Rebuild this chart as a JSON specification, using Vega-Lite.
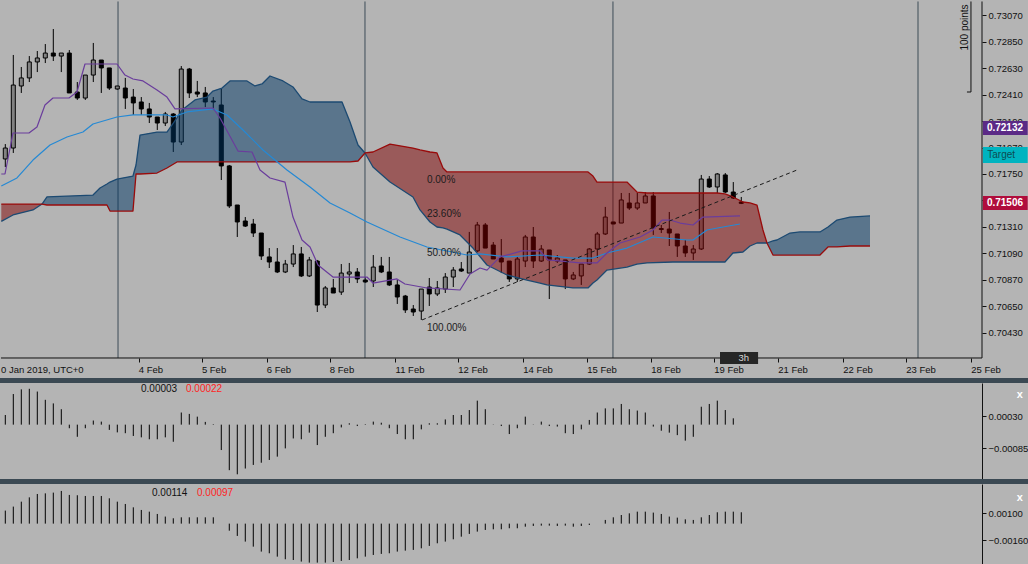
{
"$schema":"https://vega.github.io/schema/vega-lite/v6.json",
"background":"#b4b4b4",
"padding":0,
"spacing":5,
"bounds":"flush",
"config":{"font":"Liberation Sans","view":{"fill":"#b4b4b4","stroke":null}},
"resolve":{"scale":{"x":"independent","y":"independent"}},
"datasets":{
"candles":[
{"t":0,"o":0.71875,"h":0.71999,"l":0.71808,"c":0.71966},{"t":1,"o":0.71966,"h":0.72740,"l":0.71925,"c":0.72490},{"t":2,"o":0.72482,"h":0.72640,"l":0.72424,"c":0.72549},{"t":3,"o":0.72549,"h":0.72731,"l":0.72515,"c":0.72682},{"t":4,"o":0.72682,"h":0.72773,"l":0.72598,"c":0.72715},{"t":5,"o":0.72715,"h":0.72831,"l":0.72673,"c":0.72756},{"t":6,"o":0.72756,"h":0.72956,"l":0.72690,"c":0.72731},{"t":7,"o":0.72731,"h":0.72756,"l":0.72598,"c":0.72756},{"t":8,"o":0.72756,"h":0.72781,"l":0.72424,"c":0.72424},{"t":9,"o":0.72432,"h":0.72515,"l":0.72366,"c":0.72382},
{"t":10,"o":0.72382,"h":0.72573,"l":0.72366,"c":0.72573},{"t":11,"o":0.72573,"h":0.72840,"l":0.72515,"c":0.72698},{"t":12,"o":0.72698,"h":0.72698,"l":0.72424,"c":0.72632},{"t":13,"o":0.72632,"h":0.72632,"l":0.72449,"c":0.72465},{"t":14,"o":0.72457,"h":0.72482,"l":0.72449,"c":0.72482},{"t":15,"o":0.72465,"h":0.72549,"l":0.72291,"c":0.72382},{"t":16,"o":0.72390,"h":0.72457,"l":0.72241,"c":0.72341},{"t":17,"o":0.72349,"h":0.72390,"l":0.72241,"c":0.72291},{"t":18,"o":0.72291,"h":0.72341,"l":0.72174,"c":0.72224},{"t":19,"o":0.72224,"h":0.72224,"l":0.72116,"c":0.72174},
{"t":20,"o":0.72174,"h":0.72266,"l":0.72149,"c":0.72249},{"t":21,"o":0.72249,"h":0.72257,"l":0.71933,"c":0.72016},{"t":22,"o":0.72016,"h":0.72648,"l":0.71991,"c":0.72623},{"t":23,"o":0.72623,"h":0.72632,"l":0.72382,"c":0.72424},{"t":24,"o":0.72432,"h":0.72524,"l":0.72390,"c":0.72415},{"t":25,"o":0.72424,"h":0.72474,"l":0.72307,"c":0.72349},{"t":26,"o":0.72357,"h":0.72390,"l":0.72282,"c":0.72349},{"t":27,"o":0.72324,"h":0.72465,"l":0.71700,"c":0.71817},{"t":28,"o":0.71817,"h":0.71825,"l":0.71467,"c":0.71484},{"t":29,"o":0.71492,"h":0.71492,"l":0.71226,"c":0.71351},
{"t":30,"o":0.71359,"h":0.71392,"l":0.71309,"c":0.71317},{"t":31,"o":0.71334,"h":0.71376,"l":0.71226,"c":0.71259},{"t":32,"o":0.71259,"h":0.71259,"l":0.71035,"c":0.71068},{"t":33,"o":0.71060,"h":0.71134,"l":0.70968,"c":0.71018},{"t":34,"o":0.71018,"h":0.71134,"l":0.70926,"c":0.70935},{"t":35,"o":0.70935,"h":0.71035,"l":0.70926,"c":0.71001},{"t":36,"o":0.71001,"h":0.71159,"l":0.70976,"c":0.71085},{"t":37,"o":0.71085,"h":0.71143,"l":0.70893,"c":0.70902},{"t":38,"o":0.70902,"h":0.71060,"l":0.70893,"c":0.71035},{"t":39,"o":0.71026,"h":0.71035,"l":0.70602,"c":0.70660},
{"t":40,"o":0.70660,"h":0.70818,"l":0.70635,"c":0.70802},{"t":41,"o":0.70802,"h":0.70877,"l":0.70760,"c":0.70760},{"t":42,"o":0.70768,"h":0.71001,"l":0.70744,"c":0.70926},{"t":43,"o":0.70918,"h":0.71010,"l":0.70843,"c":0.70935},{"t":44,"o":0.70935,"h":0.70968,"l":0.70843,"c":0.70877},{"t":45,"o":0.70868,"h":0.70893,"l":0.70843,"c":0.70852},{"t":46,"o":0.70860,"h":0.71076,"l":0.70810,"c":0.70976},{"t":47,"o":0.70985,"h":0.71060,"l":0.70926,"c":0.70935},{"t":48,"o":0.70935,"h":0.71060,"l":0.70818,"c":0.70827},{"t":49,"o":0.70827,"h":0.70868,"l":0.70669,"c":0.70727},
{"t":50,"o":0.70735,"h":0.70744,"l":0.70594,"c":0.70619},{"t":51,"o":0.70627,"h":0.70660,"l":0.70569,"c":0.70602},{"t":52,"o":0.70610,"h":0.70793,"l":0.70536,"c":0.70793},{"t":53,"o":0.70810,"h":0.70885,"l":0.70652,"c":0.70752},{"t":54,"o":0.70752,"h":0.70860,"l":0.70735,"c":0.70802},{"t":55,"o":0.70793,"h":0.70926,"l":0.70760,"c":0.70893},{"t":56,"o":0.70893,"h":0.70976,"l":0.70810,"c":0.70951},{"t":57,"o":0.70960,"h":0.71018,"l":0.70935,"c":0.70943},{"t":58,"o":0.70926,"h":0.71268,"l":0.70926,"c":0.71101},{"t":59,"o":0.71110,"h":0.71351,"l":0.71101,"c":0.71326},
{"t":60,"o":0.71326,"h":0.71342,"l":0.71134,"c":0.71134},{"t":61,"o":0.71159,"h":0.71184,"l":0.71043,"c":0.71043},{"t":62,"o":0.71051,"h":0.71209,"l":0.70926,"c":0.71018},{"t":63,"o":0.71026,"h":0.71026,"l":0.70852,"c":0.70877},{"t":64,"o":0.70877,"h":0.71060,"l":0.70852,"c":0.71043},{"t":65,"o":0.71026,"h":0.71243,"l":0.70976,"c":0.71226},{"t":66,"o":0.71226,"h":0.71309,"l":0.70968,"c":0.71026},{"t":67,"o":0.71026,"h":0.71159,"l":0.71018,"c":0.71126},{"t":68,"o":0.71118,"h":0.71118,"l":0.70710,"c":0.71035},{"t":69,"o":0.71026,"h":0.71076,"l":0.71010,"c":0.71051},
{"t":70,"o":0.71035,"h":0.71035,"l":0.70793,"c":0.70877},{"t":71,"o":0.70877,"h":0.70935,"l":0.70868,"c":0.70910},{"t":72,"o":0.70902,"h":0.71001,"l":0.70827,"c":0.71001},{"t":73,"o":0.71001,"h":0.71134,"l":0.70993,"c":0.71126},{"t":74,"o":0.71126,"h":0.71268,"l":0.71051,"c":0.71251},{"t":75,"o":0.71251,"h":0.71476,"l":0.71243,"c":0.71392},{"t":76,"o":0.71351,"h":0.71351,"l":0.71334,"c":0.71334},{"t":77,"o":0.71342,"h":0.71592,"l":0.71342,"c":0.71534},{"t":78,"o":0.71509,"h":0.71592,"l":0.71451,"c":0.71467},{"t":79,"o":0.71467,"h":0.71592,"l":0.71451,"c":0.71509},
{"t":80,"o":0.71509,"h":0.71600,"l":0.71509,"c":0.71567},{"t":81,"o":0.71567,"h":0.71600,"l":0.71243,"c":0.71301},{"t":82,"o":0.71296,"h":0.71326,"l":0.71259,"c":0.71288},{"t":83,"o":0.71292,"h":0.71434,"l":0.71151,"c":0.71259},{"t":84,"o":0.71251,"h":0.71251,"l":0.71060,"c":0.71151},{"t":85,"o":0.71151,"h":0.71201,"l":0.71060,"c":0.71093},{"t":86,"o":0.71093,"h":0.71159,"l":0.71035,"c":0.71126},{"t":87,"o":0.71126,"h":0.71742,"l":0.71118,"c":0.71708},{"t":88,"o":0.71708,"h":0.71733,"l":0.71634,"c":0.71642},{"t":89,"o":0.71642,"h":0.71758,"l":0.71592,"c":0.71750},
{"t":90,"o":0.71742,"h":0.71758,"l":0.71592,"c":0.71600},{"t":91,"o":0.71600,"h":0.71683,"l":0.71542,"c":0.71550},{"t":92,"o":0.71517,"h":0.71559,"l":0.71500,"c":0.71506}],
"cloud":[
{"seg":"r1","trend":"bear","t":-0.5,"a":0.71356,"b":0.71500},{"seg":"r1","trend":"bear","t":0.96,"a":0.71409,"b":0.71500},{"seg":"r1","trend":"bear","t":3.46,"a":0.71451,"b":0.71500},{"seg":"r1","trend":"bear","t":4.59,"a":0.71500,"b":0.71500},
{"seg":"b1","trend":"bull","t":4.59,"a":0.71500,"b":0.71500},{"seg":"b1","trend":"bull","t":5.21,"a":0.71559,"b":0.71492},{"seg":"b1","trend":"bull","t":10.96,"a":0.71575,"b":0.71492},{"seg":"b1","trend":"bull","t":11.84,"a":0.71634,"b":0.71492},{"seg":"b1","trend":"bull","t":12.71,"a":0.71667,"b":0.71492},{"seg":"b1","trend":"bull","t":13.09,"a":0.71683,"b":0.71442},{"seg":"b1","trend":"bull","t":13.96,"a":0.71708,"b":0.71442},{"seg":"b1","trend":"bull","t":15.96,"a":0.71733,"b":0.71442},{"seg":"b1","trend":"bull","t":16.34,"a":0.71825,"b":0.71750},{"seg":"b1","trend":"bull","t":16.84,"a":0.72074,"b":0.71750},{"seg":"b1","trend":"bull","t":18.96,"a":0.72099,"b":0.71758},{"seg":"b1","trend":"bull","t":20.21,"a":0.72099,"b":0.71800},{"seg":"b1","trend":"bull","t":21.46,"a":0.72216,"b":0.71850},{"seg":"b1","trend":"bull","t":22.09,"a":0.72282,"b":0.71850},{"seg":"b1","trend":"bull","t":23.71,"a":0.72366,"b":0.71850},{"seg":"b1","trend":"bull","t":25.21,"a":0.72390,"b":0.71850},{"seg":"b1","trend":"bull","t":25.96,"a":0.72440,"b":0.71850},{"seg":"b1","trend":"bull","t":27.09,"a":0.72465,"b":0.71850},{"seg":"b1","trend":"bull","t":28.09,"a":0.72524,"b":0.71850},{"seg":"b1","trend":"bull","t":30.21,"a":0.72524,"b":0.71850},{"seg":"b1","trend":"bull","t":31.21,"a":0.72482,"b":0.71850},{"seg":"b1","trend":"bull","t":32.09,"a":0.72499,"b":0.71850},{"seg":"b1","trend":"bull","t":33.09,"a":0.72565,"b":0.71850},{"seg":"b1","trend":"bull","t":34.71,"a":0.72524,"b":0.71850},{"seg":"b1","trend":"bull","t":35.96,"a":0.72474,"b":0.71850},{"seg":"b1","trend":"bull","t":37.09,"a":0.72374,"b":0.71850},{"seg":"b1","trend":"bull","t":38.09,"a":0.72349,"b":0.71850},{"seg":"b1","trend":"bull","t":42.09,"a":0.72349,"b":0.71850},{"seg":"b1","trend":"bull","t":43.09,"a":0.72183,"b":0.71850},{"seg":"b1","trend":"bull","t":44.09,"a":0.71991,"b":0.71858},{"seg":"b1","trend":"bull","t":44.96,"a":0.71925,"b":0.71925},
{"seg":"r2","trend":"bear","t":44.96,"a":0.71925,"b":0.71925},{"seg":"r2","trend":"bear","t":45.96,"a":0.71808,"b":0.71933},{"seg":"r2","trend":"bear","t":48.09,"a":0.71683,"b":0.71999},{"seg":"r2","trend":"bear","t":50.96,"a":0.71559,"b":0.71966},{"seg":"r2","trend":"bear","t":51.84,"a":0.71451,"b":0.71950},{"seg":"r2","trend":"bear","t":53.09,"a":0.71351,"b":0.71933},{"seg":"r2","trend":"bear","t":53.96,"a":0.71309,"b":0.71925},{"seg":"r2","trend":"bear","t":54.71,"a":0.71301,"b":0.71800},{"seg":"r2","trend":"bear","t":55.21,"a":0.71292,"b":0.71767},{"seg":"r2","trend":"bear","t":56.84,"a":0.71243,"b":0.71767},{"seg":"r2","trend":"bear","t":58.46,"a":0.71134,"b":0.71767},{"seg":"r2","trend":"bear","t":60.21,"a":0.70993,"b":0.71767},{"seg":"r2","trend":"bear","t":62.71,"a":0.70910,"b":0.71767},{"seg":"r2","trend":"bear","t":65.21,"a":0.70868,"b":0.71767},{"seg":"r2","trend":"bear","t":66.84,"a":0.70843,"b":0.71767},{"seg":"r2","trend":"bear","t":67.71,"a":0.70827,"b":0.71767},{"seg":"r2","trend":"bear","t":70.96,"a":0.70802,"b":0.71767},{"seg":"r2","trend":"bear","t":72.84,"a":0.70802,"b":0.71767},{"seg":"r2","trend":"bear","t":73.46,"a":0.70843,"b":0.71733},{"seg":"r2","trend":"bear","t":73.96,"a":0.70868,"b":0.71683},{"seg":"r2","trend":"bear","t":75.21,"a":0.70951,"b":0.71683},{"seg":"r2","trend":"bear","t":77.71,"a":0.70976,"b":0.71683},{"seg":"r2","trend":"bear","t":78.96,"a":0.71001,"b":0.71600},{"seg":"r2","trend":"bear","t":80.21,"a":0.71010,"b":0.71592},{"seg":"r2","trend":"bear","t":83.46,"a":0.71018,"b":0.71592},{"seg":"r2","trend":"bear","t":88.96,"a":0.71018,"b":0.71592},{"seg":"r2","trend":"bear","t":89.96,"a":0.71018,"b":0.71584},{"seg":"r2","trend":"bear","t":90.96,"a":0.71093,"b":0.71559},{"seg":"r2","trend":"bear","t":92.21,"a":0.71101,"b":0.71517},{"seg":"r2","trend":"bear","t":93.09,"a":0.71151,"b":0.71509},{"seg":"r2","trend":"bear","t":93.96,"a":0.71176,"b":0.71492},{"seg":"r2","trend":"bear","t":94.71,"a":0.71176,"b":0.71284},{"seg":"r2","trend":"bear","t":95.21,"a":0.71176,"b":0.71176},
{"seg":"b2","trend":"bull","t":95.21,"a":0.71176,"b":0.71176},{"seg":"b2","trend":"bull","t":95.96,"a":0.71193,"b":0.71076},{"seg":"b2","trend":"bull","t":96.46,"a":0.71201,"b":0.71076},{"seg":"b2","trend":"bull","t":98.09,"a":0.71259,"b":0.71076},{"seg":"b2","trend":"bull","t":99.34,"a":0.71268,"b":0.71076},{"seg":"b2","trend":"bull","t":101.84,"a":0.71268,"b":0.71076},{"seg":"b2","trend":"bull","t":102.84,"a":0.71309,"b":0.71143},{"seg":"b2","trend":"bull","t":103.96,"a":0.71367,"b":0.71143},{"seg":"b2","trend":"bull","t":105.59,"a":0.71392,"b":0.71151},{"seg":"b2","trend":"bull","t":108.09,"a":0.71401,"b":0.71151}],
"tenkan":[{"t":-0.5,"v":0.71750},{"t":-0.04,"v":0.71750},{"t":0.96,"v":0.72091},{"t":2.96,"v":0.72091},{"t":3.96,"v":0.72141},{"t":4.96,"v":0.72324},{"t":5.96,"v":0.72382},{"t":7.96,"v":0.72382},{"t":8.96,"v":0.72432},{"t":9.96,"v":0.72665},{"t":13.96,"v":0.72665},{"t":14.96,"v":0.72573},{"t":15.96,"v":0.72540},{"t":17.21,"v":0.72524},{"t":18.96,"v":0.72449},{"t":20.21,"v":0.72390},{"t":21.21,"v":0.72291},{"t":25.96,"v":0.72299},{"t":26.84,"v":0.72216},{"t":29.09,"v":0.71941},{"t":30.84,"v":0.71933},{"t":31.84,"v":0.71783},{"t":33.09,"v":0.71717},{"t":34.96,"v":0.71683},{"t":35.96,"v":0.71392},{"t":37.09,"v":0.71201},{"t":38.09,"v":0.71143},{"t":39.09,"v":0.70993},{"t":40.96,"v":0.70893},{"t":45.21,"v":0.70893},{"t":45.96,"v":0.70843},{"t":48.96,"v":0.70877},{"t":49.96,"v":0.70835},{"t":52.71,"v":0.70802},{"t":56.84,"v":0.70785},{"t":58.09,"v":0.70918},{"t":59.34,"v":0.70968},{"t":60.21,"v":0.70951},{"t":61.84,"v":0.71060},{"t":64.59,"v":0.71110},{"t":66.84,"v":0.71110},{"t":67.84,"v":0.71035},{"t":71.84,"v":0.71010},{"t":73.96,"v":0.71010},{"t":75.21,"v":0.71093},{"t":76.84,"v":0.71176},{"t":79.34,"v":0.71226},{"t":80.96,"v":0.71284},{"t":82.09,"v":0.71367},{"t":83.09,"v":0.71367},{"t":84.34,"v":0.71342},{"t":85.96,"v":0.71326},{"t":87.21,"v":0.71392},{"t":91.84,"v":0.71401}],
"kijun":[{"t":-0.5,"v":0.71650},{"t":1.46,"v":0.71717},{"t":3.46,"v":0.71866},{"t":5.59,"v":0.71991},{"t":7.71,"v":0.72058},{"t":9.71,"v":0.72099},{"t":10.96,"v":0.72166},{"t":13.96,"v":0.72224},{"t":15.96,"v":0.72241},{"t":20.21,"v":0.72241},{"t":20.96,"v":0.72224},{"t":22.71,"v":0.72266},{"t":25.96,"v":0.72291},{"t":27.71,"v":0.72241},{"t":29.71,"v":0.72116},{"t":32.21,"v":0.71950},{"t":35.21,"v":0.71783},{"t":38.09,"v":0.71642},{"t":40.59,"v":0.71509},{"t":43.09,"v":0.71426},{"t":45.21,"v":0.71351},{"t":49.34,"v":0.71226},{"t":52.71,"v":0.71143},{"t":57.71,"v":0.71076},{"t":59.34,"v":0.71085},{"t":62.71,"v":0.71060},{"t":66.84,"v":0.71076},{"t":70.96,"v":0.71051},{"t":73.46,"v":0.71051},{"t":75.21,"v":0.71093},{"t":77.71,"v":0.71134},{"t":80.96,"v":0.71226},{"t":85.21,"v":0.71201},{"t":85.96,"v":0.71201},{"t":87.71,"v":0.71284},{"t":89.71,"v":0.71309},{"t":91.84,"v":0.71334}],
"sep":[{"t":14.09},{"t":44.96},{"t":75.96},{"t":114.09}],
"hl":[{"name":"res","p":0.72132},{"name":"ask","p":0.71521},{"name":"bid","p":0.71506}],
"target":[{"p":0.71908}],
"fib":[{"level":"0.00%","p":0.71775},{"level":"23.60%","p":0.71484},{"level":"100.00%","p":0.70536}],
"fib50":[{"level":"50.00%","p":0.71151}],
"fibtext":[{"t":52.71,"p":0.71700,"label":"0.00%"},{"t":52.71,"p":0.71417,"label":"23.60%"},{"t":52.71,"p":0.71093,"label":"50.00%"},{"t":52.71,"p":0.70469,"label":"100.00%"}],
"diag":[{"t":52.09,"p":0.70536},{"t":98.96,"p":0.71783}],
"dates":[{"t":18.21,"label":"4 Feb"},{"t":26.09,"label":"5 Feb"},{"t":34.21,"label":"6 Feb"},{"t":42.09,"label":"8 Feb"},{"t":50.59,"label":"11 Feb"},{"t":58.46,"label":"12 Feb"},{"t":66.59,"label":"14 Feb"},{"t":74.59,"label":"15 Feb"},{"t":82.59,"label":"18 Feb"},{"t":90.46,"label":"19 Feb"},{"t":98.46,"label":"21 Feb"},{"t":106.59,"label":"22 Feb"},{"t":114.46,"label":"23 Feb"},{"t":122.59,"label":"25 Feb"}],
"date0":[{"t":-0.54,"label":"0 Jan 2019, UTC+0"}],
"band":[{"t":-0.6625,"t2":127.84}],
"frame":[{"t":-0.54}],
"tags":[{"name":"res","t":122.2,"t2":127.8,"p1":0.72191,"p2":0.72074},{"name":"target","t":122.2,"t2":127.8,"p1":0.71975,"p2":0.71842},{"name":"bid","t":122.2,"t2":127.8,"p1":0.71567,"p2":0.71451}],
"tagtext":[{"t":124.96,"p":0.72132,"label":"0.72132"},{"t":124.96,"p":0.71506,"label":"0.71506"}],
"targettext":[{"t":122.75,"p":0.71908,"label":"Target"}],
"pts":[{"t":119.96,"p":0.72969,"label":"100 points"}],
"box3h":[{"t":89.34,"t2":94.1,"p1":0.70269,"p2":0.70169}],
"txt3h":[{"t":92.3,"p":0.70219,"label":"3h"}],
"h2":[{"t":0,"v":0.00035},{"t":1,"v":0.00111},{"t":2,"v":0.00128},{"t":3,"v":0.0013},{"t":4,"v":0.0012},{"t":5,"v":0.0009},{"t":6,"v":0.00077},{"t":7,"v":0.00056},{"t":8,"v":-0.00013},{"t":9,"v":-0.00044},{"t":10,"v":-0.00013},{"t":11,"v":0.00015},{"t":12,"v":0.00011},{"t":13,"v":-0.00019},{"t":14,"v":-0.00028},{"t":15,"v":-0.00031},{"t":16,"v":-0.00041},{"t":17,"v":-0.00046},{"t":18,"v":-0.00053},{"t":19,"v":-0.00053},{"t":20,"v":-0.00046},{"t":21,"v":-0.00062},{"t":22,"v":0.00044},{"t":23,"v":0.00039},{"t":24,"v":0.00029},{"t":25,"v":0.0001},{"t":26,"v":0.00002},{"t":27,"v":-0.00092},{"t":28,"v":-0.00165},{"t":29,"v":-0.0018},{"t":30,"v":-0.00159},{"t":31,"v":-0.00146},{"t":32,"v":-0.00138},{"t":33,"v":-0.00128},{"t":34,"v":-0.00116},{"t":35,"v":-0.00086},{"t":36,"v":-0.0005},{"t":37,"v":-0.00053},{"t":38,"v":-0.00029},{"t":39,"v":-0.00074},{"t":40,"v":-0.00044},{"t":41,"v":-0.00031},{"t":42,"v":-0.0001},{"t":43,"v":0.00005},{"t":44,"v":-0.00005},{"t":45,"v":0.00002},{"t":46,"v":0.00011},{"t":47,"v":0.00007},{"t":48,"v":-0.00013},{"t":49,"v":-0.00034},{"t":50,"v":-0.00053},{"t":51,"v":-0.00053},{"t":52,"v":-0.00017},{"t":53,"v":0.00005},{"t":54,"v":0.00005},{"t":55,"v":0.00019},{"t":56,"v":0.00035},{"t":57,"v":0.00035},{"t":58,"v":0.00053},{"t":59,"v":0.00087},{"t":60,"v":0.00056},{"t":61,"v":0.00001},{"t":62,"v":-0.00005},{"t":63,"v":-0.00034},{"t":64,"v":-0.00013},{"t":65,"v":0.00029},{"t":66,"v":0.00001},{"t":67,"v":0.00011},{"t":68,"v":-0.00005},{"t":69,"v":-0.00007},{"t":70,"v":-0.00031},{"t":71,"v":-0.00034},{"t":72,"v":-0.00017},{"t":73,"v":0.00017},{"t":74,"v":0.00044},{"t":75,"v":0.00059},{"t":76,"v":0.00059},{"t":77,"v":0.00075},{"t":78,"v":0.00056},{"t":79,"v":0.00051},{"t":80,"v":0.00044},{"t":81,"v":-0.00007},{"t":82,"v":-0.00022},{"t":83,"v":-0.00029},{"t":84,"v":-0.00038},{"t":85,"v":-0.00058},{"t":86,"v":-0.00044},{"t":87,"v":0.00065},{"t":88,"v":0.00075},{"t":89,"v":0.00087},{"t":90,"v":0.00053},{"t":91,"v":0.00023}],
"h3":[{"t":0,"v":0.00124},{"t":1,"v":0.00162},{"t":2,"v":0.00209},{"t":3,"v":0.0025},{"t":4,"v":0.00282},{"t":5,"v":0.00288},{"t":6,"v":0.00295},{"t":7,"v":0.00311},{"t":8,"v":0.00273},{"t":9,"v":0.0027},{"t":10,"v":0.00263},{"t":11,"v":0.00263},{"t":12,"v":0.00263},{"t":13,"v":0.00241},{"t":14,"v":0.00209},{"t":15,"v":0.00187},{"t":16,"v":0.00155},{"t":17,"v":0.0013},{"t":18,"v":0.00114},{"t":19,"v":0.00092},{"t":20,"v":0.00067},{"t":21,"v":0.00051},{"t":22,"v":0.0006},{"t":23,"v":0.0006},{"t":24,"v":0.0006},{"t":25,"v":0.0006},{"t":26,"v":0.0006},{"t":28,"v":-0.00067},{"t":29,"v":-0.00117},{"t":30,"v":-0.00171},{"t":31,"v":-0.00219},{"t":32,"v":-0.00266},{"t":33,"v":-0.00282},{"t":34,"v":-0.00314},{"t":35,"v":-0.00339},{"t":36,"v":-0.00346},{"t":37,"v":-0.00361},{"t":38,"v":-0.00371},{"t":39,"v":-0.00371},{"t":40,"v":-0.00371},{"t":41,"v":-0.00365},{"t":42,"v":-0.00355},{"t":43,"v":-0.00346},{"t":44,"v":-0.0033},{"t":45,"v":-0.00314},{"t":46,"v":-0.00298},{"t":47,"v":-0.00288},{"t":48,"v":-0.00282},{"t":49,"v":-0.00266},{"t":50,"v":-0.00257},{"t":51,"v":-0.0025},{"t":52,"v":-0.00235},{"t":53,"v":-0.00212},{"t":54,"v":-0.00187},{"t":55,"v":-0.00171},{"t":56,"v":-0.00149},{"t":57,"v":-0.00124},{"t":58,"v":-0.00098},{"t":59,"v":-0.00076},{"t":60,"v":-0.0006},{"t":61,"v":-0.00054},{"t":62,"v":-0.00054},{"t":63,"v":-0.00044},{"t":64,"v":-0.00044},{"t":65,"v":-0.00029},{"t":66,"v":-0.00022},{"t":67,"v":-0.00019},{"t":68,"v":-0.00019},{"t":69,"v":-0.00022},{"t":70,"v":-0.00019},{"t":71,"v":-0.00029},{"t":72,"v":-0.00022},{"t":73,"v":-0.00013},{"t":75,"v":0.00035},{"t":76,"v":0.0006},{"t":77,"v":0.00082},{"t":78,"v":0.00098},{"t":79,"v":0.00114},{"t":80,"v":0.00114},{"t":81,"v":0.00105},{"t":82,"v":0.00092},{"t":83,"v":0.00067},{"t":84,"v":0.00057},{"t":85,"v":0.00041},{"t":86,"v":0.00035},{"t":87,"v":0.0006},{"t":88,"v":0.00082},{"t":89,"v":0.00108},{"t":90,"v":0.00114},{"t":91,"v":0.00114},{"t":92,"v":0.00108}],
"lab2":[{"t":16.96,"v":0.001285,"label":"0.00003","k":"a"},{"t":22.59,"v":0.001285,"label":"0.00022","k":"b"}],
"lab3":[{"t":18.34,"v":0.002945,"label":"0.00114","k":"a"},{"t":23.96,"v":0.002945,"label":"0.00097","k":"b"}],
"x2":[{"t":126.83,"v":0.00108,"label":"x"}],
"x3":[{"t":126.83,"v":0.00244,"label":"x"}]
},
"vconcat":[
{
"width":982,"height":378,
"encoding":{"x":{"field":"t","type":"quantitative","scale":{"domain":[-0.6625,122.09],"nice":false,"zero":false,"padding":0},"axis":{"orient":"bottom","offset":-20,"values":[16.71,24.59,32.71,40.59,48.71,56.59,64.71,72.71,80.71,88.59,96.59,104.71,112.59,120.71],"tickCount":40,"labels":false,"domain":false,"tickSize":4,"title":null,"grid":false,"tickColor":"#111111"}}},
"layer":[
{"data":{"name":"candles"},"mark":{"type":"rule","color":"#000000","strokeWidth":1},"encoding":{"y":{"field":"l","type":"quantitative","scale":{"domain":[0.700531,0.731973],"nice":false,"zero":false},"axis":{"orient":"right","values":[0.7307,0.7285,0.7263,0.7241,0.7219,0.7197,0.7175,0.7153,0.7131,0.7109,0.7087,0.7065,0.7043],"tickCount":40,"format":".5f","title":null,"tickSize":4,"labelPadding":2,"labelOverlap":false,"domain":false,"grid":false,"labelFont":"Liberation Sans","labelFontSize":9.5,"labelColor":"#111111","tickColor":"#111111"}},"y2":{"field":"h"}}},
{"data":{"name":"sep"},"mark":{"type":"rule","color":"#3d4c57","strokeWidth":1},"encoding":{"y":{"datum":0.702195,"type":"quantitative","scale":{"domain":[0.700531,0.731973],"nice":false,"zero":false},"axis":{"title":null}},"y2":{"datum":0.73185}}},
{"data":{"name":"frame"},"mark":{"type":"rule","color":"#111111","strokeWidth":1},"encoding":{"x2":{"datum":122.09},"y":{"datum":0.702195,"type":"quantitative","scale":{"domain":[0.700531,0.731973],"nice":false,"zero":false},"axis":{"title":null}}}},
{"data":{"name":"frame"},"mark":{"type":"rule","color":"#111111","strokeWidth":1},"encoding":{"x":{"datum":122.09},"y":{"datum":0.702195,"type":"quantitative","scale":{"domain":[0.700531,0.731973],"nice":false,"zero":false},"axis":{"title":null}},"y2":{"datum":0.73185}}},
{"data":{"name":"candles"},"mark":{"type":"bar","width":4,"stroke":"#000000","strokeWidth":1},"encoding":{"y":{"field":"o","type":"quantitative","scale":{"domain":[0.700531,0.731973],"nice":false,"zero":false},"axis":{"title":null}},"y2":{"field":"c"},"fill":{"condition":{"test":"datum.c < datum.o","value":"#000000"},"value":"#828282"}}},
{"data":{"name":"cloud"},"mark":{"type":"area","opacity":0.5},"encoding":{"y":{"field":"a","type":"quantitative","scale":{"domain":[0.700531,0.731973],"nice":false,"zero":false},"axis":{"title":null}},"y2":{"field":"b"},"detail":{"field":"seg"},"color":{"condition":{"test":"datum.trend == 'bull'","value":"#003664"},"value":"#800000"}}},
{"data":{"name":"cloud"},"mark":{"type":"line","color":"#1c4a72","strokeWidth":1.3,"strokeJoin":"round"},"encoding":{"y":{"field":"a","type":"quantitative","scale":{"domain":[0.700531,0.731973],"nice":false,"zero":false},"axis":{"title":null}},"detail":{"field":"seg"}}},
{"data":{"name":"cloud"},"mark":{"type":"line","color":"#990b0b","strokeWidth":1.3,"strokeJoin":"round"},"encoding":{"y":{"field":"b","type":"quantitative","scale":{"domain":[0.700531,0.731973],"nice":false,"zero":false},"axis":{"title":null}},"detail":{"field":"seg"}}},
{"data":{"name":"kijun"},"mark":{"type":"line","color":"#2589d4","strokeWidth":1.2,"strokeJoin":"round"},"encoding":{"y":{"field":"v","type":"quantitative","scale":{"domain":[0.700531,0.731973],"nice":false,"zero":false},"axis":{"title":null}}}},
{"data":{"name":"tenkan"},"mark":{"type":"line","color":"#6a3d9c","strokeWidth":1.2,"strokeJoin":"round"},"encoding":{"y":{"field":"v","type":"quantitative","scale":{"domain":[0.700531,0.731973],"nice":false,"zero":false},"axis":{"title":null}}}},
{"data":{"name":"hl"},"mark":{"type":"rule","strokeWidth":1.3},"encoding":{"x":{"datum":-0.49},"x2":{"datum":122.09},"y":{"field":"p","type":"quantitative","scale":{"domain":[0.700531,0.731973],"nice":false,"zero":false},"axis":{"title":null}},"color":{"condition":[{"test":"datum.name == 'res'","value":"#5b2d86"},{"test":"datum.name == 'ask'","value":"#2f8797"}],"value":"#b5103e"}}},
{"data":{"name":"target"},"mark":{"type":"rule","strokeWidth":1,"color":"#5fb6b8","strokeDash":[8,4]},"encoding":{"x":{"datum":-0.5},"x2":{"datum":122.09},"y":{"field":"p","type":"quantitative","scale":{"domain":[0.700531,0.731973],"nice":false,"zero":false},"axis":{"title":null}}}},
{"data":{"name":"fib"},"mark":{"type":"rule","strokeWidth":1,"color":"#111111"},"encoding":{"x":{"datum":52.09},"x2":{"datum":122.09},"y":{"field":"p","type":"quantitative","scale":{"domain":[0.700531,0.731973],"nice":false,"zero":false},"axis":{"title":null}}}},
{"data":{"name":"fib50"},"mark":{"type":"rule","strokeWidth":2,"color":"#4d4d4d"},"encoding":{"x":{"datum":52.09},"x2":{"datum":122.09},"y":{"field":"p","type":"quantitative","scale":{"domain":[0.700531,0.731973],"nice":false,"zero":false},"axis":{"title":null}}}},
{"data":{"name":"diag"},"mark":{"type":"line","color":"#1a1a1a","strokeWidth":1,"strokeDash":[4,3]},"encoding":{"y":{"field":"p","type":"quantitative","scale":{"domain":[0.700531,0.731973],"nice":false,"zero":false},"axis":{"title":null}}}},
{"data":{"name":"fibtext"},"mark":{"type":"text","align":"left","baseline":"middle","fontSize":10,"color":"#1c1c1c"},"encoding":{"y":{"field":"p","type":"quantitative","scale":{"domain":[0.700531,0.731973],"nice":false,"zero":false},"axis":{"title":null}},"text":{"field":"label"}}},
{"data":{"name":"dates"},"mark":{"type":"text","align":"center","baseline":"middle","fontSize":9.5,"color":"#111111"},"encoding":{"y":{"datum":0.7012,"type":"quantitative","scale":{"domain":[0.700531,0.731973],"nice":false,"zero":false},"axis":{"title":null}},"text":{"field":"label"}}},
{"data":{"name":"date0"},"mark":{"type":"text","align":"left","baseline":"middle","fontSize":9.5,"color":"#111111"},"encoding":{"y":{"datum":0.7012,"type":"quantitative","scale":{"domain":[0.700531,0.731973],"nice":false,"zero":false},"axis":{"title":null}},"text":{"field":"label"}}},
{"data":{"name":"band"},"mark":{"type":"rect","color":"#3b4953"},"encoding":{"x2":{"field":"t2"},"y":{"datum":0.700531,"type":"quantitative","scale":{"domain":[0.700531,0.731973],"nice":false,"zero":false},"axis":{"title":null}},"y2":{"datum":0.700115}}},
{"data":{"name":"box3h"},"mark":{"type":"rect","color":"#262626"},"encoding":{"x2":{"field":"t2"},"y":{"field":"p1","type":"quantitative","scale":{"domain":[0.700531,0.731973],"nice":false,"zero":false},"axis":{"title":null}},"y2":{"field":"p2"}}},
{"data":{"name":"txt3h"},"mark":{"type":"text","align":"center","baseline":"middle","fontSize":9.5,"color":"#d8d8d8"},"encoding":{"y":{"field":"p","type":"quantitative","scale":{"domain":[0.700531,0.731973],"nice":false,"zero":false},"axis":{"title":null}},"text":{"field":"label"}}},
{"data":{"name":"tags"},"mark":{"type":"rect"},"encoding":{"x2":{"field":"t2"},"y":{"field":"p1","type":"quantitative","scale":{"domain":[0.700531,0.731973],"nice":false,"zero":false},"axis":{"title":null}},"y2":{"field":"p2"},"color":{"condition":[{"test":"datum.name == 'res'","value":"#5b2a86"},{"test":"datum.name == 'target'","value":"#00b4c0"}],"value":"#b00d3c"}}},
{"data":{"name":"tagtext"},"mark":{"type":"text","align":"center","baseline":"middle","fontSize":10,"fontWeight":"bold","color":"#ffffff"},"encoding":{"y":{"field":"p","type":"quantitative","scale":{"domain":[0.700531,0.731973],"nice":false,"zero":false},"axis":{"title":null}},"text":{"field":"label"}}},
{"data":{"name":"targettext"},"mark":{"type":"text","align":"left","baseline":"middle","fontSize":10,"color":"#0d4b52"},"encoding":{"y":{"field":"p","type":"quantitative","scale":{"domain":[0.700531,0.731973],"nice":false,"zero":false},"axis":{"title":null}},"text":{"field":"label"}}},
{"data":{"name":"pts"},"mark":{"type":"rule","color":"#111111","strokeWidth":1},"encoding":{"x":{"datum":120.71},"y":{"datum":0.72432,"type":"quantitative","scale":{"domain":[0.700531,0.731973],"nice":false,"zero":false},"axis":{"title":null}},"y2":{"datum":0.73185}}},
{"data":{"name":"pts"},"mark":{"type":"rule","color":"#111111","strokeWidth":1},"encoding":{"x":{"datum":120.21},"x2":{"datum":120.71},"y":{"datum":0.72432,"type":"quantitative","scale":{"domain":[0.700531,0.731973],"nice":false,"zero":false},"axis":{"title":null}}}},
{"data":{"name":"pts"},"mark":{"type":"text","angle":270,"align":"center","baseline":"middle","fontSize":10,"color":"#111111"},"encoding":{"y":{"field":"p","type":"quantitative","scale":{"domain":[0.700531,0.731973],"nice":false,"zero":false},"axis":{"title":null}},"text":{"field":"label"}}}
]
},
{
"width":982,"height":96,
"encoding":{"x":{"field":"t","type":"quantitative","scale":{"domain":[-0.6625,122.09],"nice":false,"zero":false,"padding":0},"axis":null}},
"layer":[
{"data":{"name":"h2"},"mark":{"type":"rule","color":"#000000","strokeWidth":1},"encoding":{"y":{"field":"v","type":"quantitative","scale":{"domain":[-0.00197,0.00151],"nice":false,"zero":false},"axis":{"orient":"right","values":[0.0003,-0.00085],"tickCount":10,"format":".5f","title":null,"tickSize":4,"labelPadding":2,"labelOverlap":false,"grid":false,"labelFont":"Liberation Sans","labelFontSize":9.5,"labelColor":"#111111","tickColor":"#111111","domainColor":"#111111"}},"y2":{"datum":0}}},
{"data":{"name":"band"},"mark":{"type":"rect","color":"#3b4953"},"encoding":{"x2":{"field":"t2"},"y":{"datum":-0.00197,"type":"quantitative","scale":{"domain":[-0.00197,0.00151],"nice":false,"zero":false},"axis":{"title":null}},"y2":{"datum":-0.002151}}},
{"data":{"name":"lab2"},"mark":{"type":"text","align":"left","baseline":"middle","fontSize":10},"encoding":{"y":{"field":"v","type":"quantitative","scale":{"domain":[-0.00197,0.00151],"nice":false,"zero":false},"axis":{"title":null}},"text":{"field":"label"},"color":{"condition":{"test":"datum.k == 'b'","value":"#ff1f1f"},"value":"#111111"}}},
{"data":{"name":"x2"},"mark":{"type":"text","align":"center","baseline":"middle","fontSize":11,"fontWeight":"bold","color":"#ffffff"},"encoding":{"y":{"field":"v","type":"quantitative","scale":{"domain":[-0.00197,0.00151],"nice":false,"zero":false},"axis":{"title":null}},"text":{"field":"label"}}}
]
},
{
"width":982,"height":80,
"encoding":{"x":{"field":"t","type":"quantitative","scale":{"domain":[-0.6625,122.09],"nice":false,"zero":false,"padding":0},"axis":null}},
"layer":[
{"data":{"name":"h3"},"mark":{"type":"rule","color":"#000000","strokeWidth":1},"encoding":{"y":{"field":"v","type":"quantitative","scale":{"domain":[-0.00384,0.00377],"nice":false,"zero":false},"axis":{"orient":"right","values":[0.001,-0.0016],"tickCount":10,"format":".5f","title":null,"tickSize":4,"labelPadding":2,"labelOverlap":false,"grid":false,"labelFont":"Liberation Sans","labelFontSize":9.5,"labelColor":"#111111","tickColor":"#111111","domainColor":"#111111"}},"y2":{"datum":0}}},
{"data":{"name":"lab3"},"mark":{"type":"text","align":"left","baseline":"middle","fontSize":10},"encoding":{"y":{"field":"v","type":"quantitative","scale":{"domain":[-0.00384,0.00377],"nice":false,"zero":false},"axis":{"title":null}},"text":{"field":"label"},"color":{"condition":{"test":"datum.k == 'b'","value":"#ff1f1f"},"value":"#111111"}}},
{"data":{"name":"x3"},"mark":{"type":"text","align":"center","baseline":"middle","fontSize":11,"fontWeight":"bold","color":"#ffffff"},"encoding":{"y":{"field":"v","type":"quantitative","scale":{"domain":[-0.00384,0.00377],"nice":false,"zero":false},"axis":{"title":null}},"text":{"field":"label"}}}
]
}
]
}
